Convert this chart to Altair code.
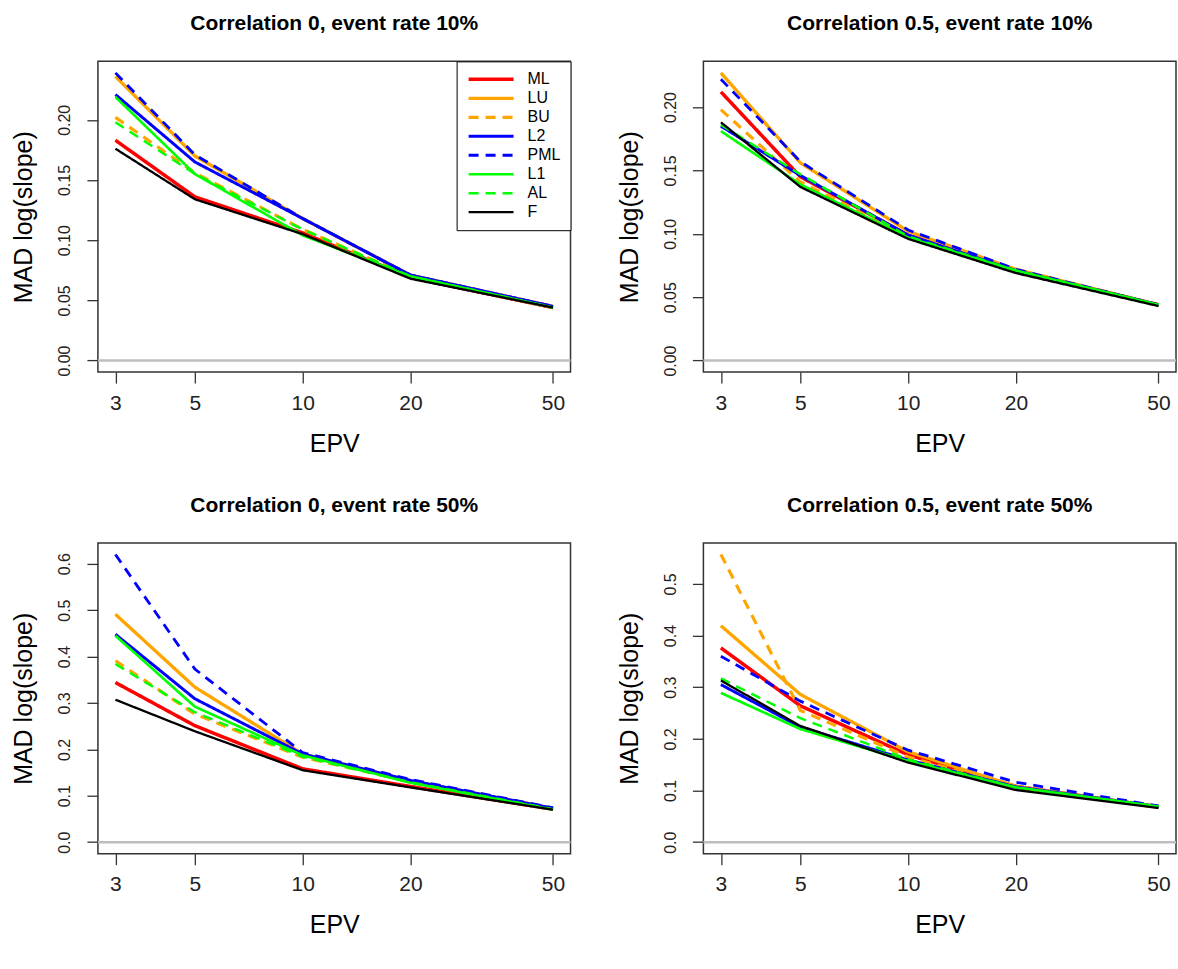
import math
import altair as alt
import pandas as pd

epv = [3, 5, 10, 20, 50]
methods = ["ML", "LU", "BU", "L2", "PML", "L1", "AL", "F"]
colors = ["#FF0000", "#FFA500", "#FFA500", "#0000FF", "#0000FF", "#00FF00", "#00FF00", "#000000"]
dashes = [[1, 0], [1, 0], [10, 7], [1, 0], [10, 7], [1, 0], [10, 7], [1, 0]]
widths = [3.5, 2.3, 2.3, 2.3, 2.3, 2.3, 2.3, 2.7]

titles = [
    "Correlation 0, event rate 10%",
    "Correlation 0.5, event rate 10%",
    "Correlation 0, event rate 50%",
    "Correlation 0.5, event rate 50%",
]

# Correlation 0, event rate 10%
p1 = {
    "ML": [0.183, 0.136, 0.106, 0.069, 0.044],
    "LU": [0.236, 0.170, 0.118, 0.071, 0.045],
    "BU": [0.202, 0.156, 0.109, 0.070, 0.044],
    "L2": [0.221, 0.165, 0.118, 0.071, 0.045],
    "PML": [0.239, 0.171, 0.118, 0.071, 0.045],
    "L1": [0.219, 0.155, 0.104, 0.070, 0.044],
    "AL": [0.198, 0.155, 0.109, 0.070, 0.044],
    "F": [0.176, 0.134, 0.105, 0.068, 0.044],
}
# Correlation 0.5, event rate 10%
p2 = {
    "ML": [0.212, 0.145, 0.099, 0.071, 0.044],
    "LU": [0.227, 0.156, 0.102, 0.072, 0.044],
    "BU": [0.198, 0.141, 0.098, 0.071, 0.044],
    "L2": [0.185, 0.146, 0.099, 0.071, 0.044],
    "PML": [0.222, 0.157, 0.103, 0.072, 0.044],
    "L1": [0.181, 0.139, 0.097, 0.071, 0.044],
    "AL": [0.186, 0.147, 0.098, 0.071, 0.044],
    "F": [0.188, 0.137, 0.096, 0.069, 0.043],
}
# Correlation 0, event rate 50%
p3 = {
    "ML": [0.344, 0.251, 0.158, 0.120, 0.071],
    "LU": [0.491, 0.334, 0.190, 0.132, 0.073],
    "BU": [0.391, 0.276, 0.183, 0.130, 0.072],
    "L2": [0.448, 0.309, 0.190, 0.133, 0.073],
    "PML": [0.620, 0.373, 0.193, 0.135, 0.074],
    "L1": [0.445, 0.292, 0.187, 0.128, 0.070],
    "AL": [0.384, 0.280, 0.184, 0.129, 0.071],
    "F": [0.307, 0.239, 0.155, 0.118, 0.070],
}
# Correlation 0.5, event rate 50%
p4 = {
    "ML": [0.376, 0.264, 0.169, 0.108, 0.068],
    "LU": [0.419, 0.286, 0.175, 0.108, 0.069],
    "BU": [0.557, 0.255, 0.165, 0.106, 0.068],
    "L2": [0.305, 0.223, 0.159, 0.107, 0.069],
    "PML": [0.360, 0.273, 0.178, 0.116, 0.070],
    "L1": [0.289, 0.219, 0.157, 0.106, 0.069],
    "AL": [0.317, 0.240, 0.160, 0.106, 0.069],
    "F": [0.313, 0.225, 0.154, 0.101, 0.066],
}

ticks_small = [0.0, 0.05, 0.10, 0.15, 0.20]
ticks_p3 = [0.0, 0.1, 0.2, 0.3, 0.4, 0.5, 0.6]
ticks_p4 = [0.0, 0.1, 0.2, 0.3, 0.4, 0.5]

FONT = "Liberation Sans"
PW, PH = 473, 311


def panel(vals, title, yticks, fmt, show_legend):
    rows = [
        {"EPV": e, "MAD": v, "method": m}
        for m in methods
        for e, v in zip(epv, vals[m])
    ]
    df = pd.DataFrame(rows)
    ymax = df["MAD"].max()
    ydom = [-0.04 * ymax, 1.04 * ymax]
    ext = 10 ** (0.04 * math.log10(max(epv) / min(epv)))
    xdom = [min(epv) / ext, max(epv) * ext]

    if show_legend:
        leg = alt.Legend(
            title=None,
            orient="top-right",
            offset=0,
            symbolType="stroke",
            symbolSize=2025,
            clipHeight=16,
            rowPadding=3,
            labelFont=FONT,
            labelFontSize=16,
            labelColor="black",
            labelOffset=12,
            padding=10,
            strokeColor="black",
            fillColor="white",
        )
    else:
        leg = None

    lines = alt.Chart(df).mark_line(clip=True).encode(
        x=alt.X(
            "EPV:Q",
            scale=alt.Scale(type="log", domain=xdom, nice=False, zero=False),
            axis=alt.Axis(
                values=epv, format="d", title="EPV",
                labelFontSize=21, labelPadding=9, titleFontSize=25, titlePadding=18,
            ),
        ),
        y=alt.Y(
            "MAD:Q",
            scale=alt.Scale(domain=ydom, nice=False, zero=False),
            axis=alt.Axis(
                values=yticks, format=fmt, title="MAD log(slope)",
                labelFontSize=16, labelAngle=270, labelAlign="center",
                labelBaseline="bottom", labelPadding=14,
                titleFontSize=25, titlePadding=20,
            ),
        ),
        color=alt.Color("method:N", scale=alt.Scale(domain=methods, range=colors), legend=leg),
        strokeDash=alt.StrokeDash("method:N", scale=alt.Scale(domain=methods, range=dashes), legend=leg),
        strokeWidth=alt.StrokeWidth("method:N", scale=alt.Scale(domain=methods, range=widths), legend=leg),
    )
    zero = alt.Chart(pd.DataFrame({"z": [0]})).mark_rule(
        color="#BEBEBE", strokeWidth=2.5
    ).encode(y=alt.datum(0))
    return alt.layer(zero, lines).properties(width=PW, height=PH, title=title)


c1 = panel(p1, titles[0], ticks_small, ".2f", True)
c2 = panel(p2, titles[1], ticks_small, ".2f", False)
c3 = panel(p3, titles[2], ticks_p3, ".1f", False)
c4 = panel(p4, titles[3], ticks_p4, ".1f", False)

chart = (
    alt.concat(c1, c2, c3, c4, columns=2, spacing={"row": 37, "column": 44})
    .resolve_scale(color="independent", strokeDash="independent", strokeWidth="independent")
    .properties(padding={"left": 11, "top": 11, "right": 0, "bottom": 0}, background="white")
    .configure_view(stroke="#333333", strokeWidth=1.5)
    .configure_axis(
        domain=False, grid=False, tickColor="#333333", tickSize=11, tickWidth=1.3,
        labelFont=FONT, labelColor="#222222", titleFont=FONT,
        titleFontWeight="normal", titleColor="black",
    )
    .configure_title(font=FONT, fontSize=21, fontWeight="bold", anchor="middle",
                     offset=27, color="black")
)

chart.save("out.html", embed_options={"renderer": "svg", "actions": False})
